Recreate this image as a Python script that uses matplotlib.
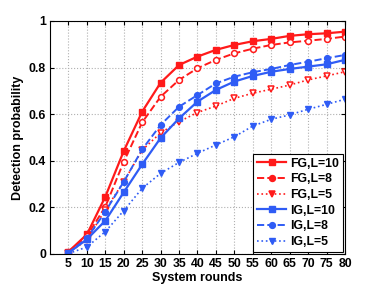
import matplotlib
matplotlib.use("Agg")
import matplotlib.pyplot as plt

rounds = [5, 10, 15, 20, 25, 30, 35, 40, 45, 50, 55, 60, 65, 70, 75, 80]
fg_l10 = [0.010, 0.084, 0.246, 0.442, 0.611, 0.735, 0.811, 0.847, 0.876, 0.897, 0.913, 0.923, 0.936, 0.943, 0.947, 0.954]
fg_l8 = [0.010, 0.077, 0.203, 0.396, 0.565, 0.675, 0.747, 0.797, 0.833, 0.861, 0.881, 0.897, 0.908, 0.915, 0.923, 0.933]
fg_l5 = [0.005, 0.060, 0.190, 0.310, 0.446, 0.520, 0.568, 0.607, 0.635, 0.668, 0.690, 0.707, 0.725, 0.747, 0.764, 0.782]
ig_l10 = [0.005, 0.063, 0.143, 0.265, 0.385, 0.498, 0.582, 0.654, 0.704, 0.740, 0.764, 0.782, 0.794, 0.804, 0.814, 0.833]
ig_l8 = [0.005, 0.067, 0.182, 0.310, 0.449, 0.554, 0.632, 0.682, 0.732, 0.761, 0.780, 0.794, 0.811, 0.825, 0.840, 0.854]
ig_l5 = [0.002, 0.030, 0.096, 0.186, 0.282, 0.346, 0.393, 0.432, 0.468, 0.503, 0.549, 0.578, 0.597, 0.621, 0.642, 0.664]
labels = ["FG,L=10", "FG,L=8", "FG,L=5", "IG,L=10", "IG,L=8", "IG,L=5"]

red = "#ff1a1a"
blue = "#2f5cf5"

plt.rcParams['font.family'] = ['Liberation Sans', 'DejaVu Sans']
plt.rcParams['font.weight'] = 'bold'

fig = plt.figure(figsize=(3.82, 2.87), dpi=100)
ax = fig.add_axes([0.131, 0.115, 0.772, 0.812])

ax.plot(rounds, fg_l10, '-', color=red, marker='s', ms=3.8, lw=1.6, label=labels[0])
ax.plot(rounds, fg_l8, '--', color=red, marker='o', ms=4.2, lw=1.4, mfc='white', mew=1.1, label=labels[1])
ax.plot(rounds, fg_l5, ':', color=red, marker='v', ms=4.8, lw=1.2, mfc='white', mew=1.1, label=labels[2])
ax.plot(rounds, ig_l10, '-', color=blue, marker='s', ms=3.8, lw=1.6, label=labels[3])
ax.plot(rounds, ig_l8, '--', color=blue, marker='o', ms=4.2, lw=1.4, label=labels[4])
ax.plot(rounds, ig_l5, ':', color=blue, marker='v', ms=4.8, lw=1.2, label=labels[5])

ax.set_xlim(0, 80)
ax.set_ylim(0, 1)
ax.set_xticks(rounds)
ax.set_yticks([0, 0.2, 0.4, 0.6, 0.8, 1])
ax.set_yticklabels(['0', '0.2', '0.4', '0.6', '0.8', '1'])
ax.tick_params(direction='in', labelsize=8.8, length=3, top=True, right=True, pad=3)
for lab in ax.get_xticklabels() + ax.get_yticklabels():
    lab.set_fontweight('bold')
ax.grid(True, linestyle=':', color='#b0b0b0', lw=0.8)
ax.set_xlabel('System rounds', fontsize=9, fontweight='bold', labelpad=1)
ax.set_ylabel('Detection probability', fontsize=9, fontweight='bold', labelpad=3)
for s in ax.spines.values():
    s.set_linewidth(0.8)

leg = ax.legend(loc='lower right', fontsize=8.8, frameon=True, fancybox=False,
                edgecolor='black', framealpha=1, handlelength=2.4, borderpad=0.3,
                labelspacing=0.3, handletextpad=0.3, borderaxespad=0.2)
leg.get_frame().set_linewidth(0.8)
for t in leg.get_texts():
    t.set_fontweight('bold')
for h in leg.legend_handles:
    h.set_markerfacecolor(h.get_color())

fig.savefig('out.png', dpi=100)
